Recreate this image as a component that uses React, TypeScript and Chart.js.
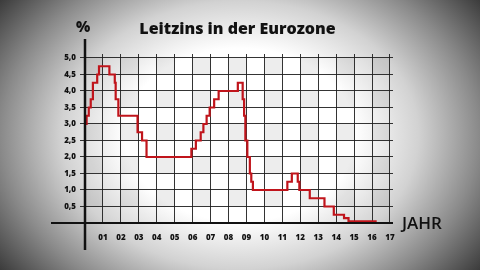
import React, { useEffect, useRef } from "react";
import { Chart, registerables } from "chart.js";

Chart.register(...registerables);

// ECB main refinancing rate: change dates (decimal year) and new value (%)
const changeDates = [
  2000.0, 2000.09, 2000.21, 2000.32, 2000.44, 2000.68, 2000.78, 2001.36, 2001.66,
  2001.71, 2001.86, 2002.93, 2003.18, 2003.43, 2005.93, 2006.18, 2006.45, 2006.6,
  2006.78, 2006.95, 2007.2, 2007.45, 2008.52, 2008.79, 2008.87, 2008.94, 2009.05,
  2009.19, 2009.27, 2009.36, 2011.28, 2011.53, 2011.86, 2011.95, 2012.53, 2013.35,
  2013.87, 2014.44, 2014.69, 2016.2, 2017.0,
];
const rates = [
  3.0, 3.25, 3.5, 3.75, 4.25, 4.5, 4.75, 4.5, 4.25,
  3.75, 3.25, 2.75, 2.5, 2.0, 2.25, 2.5, 2.75, 3.0,
  3.25, 3.5, 3.75, 4.0, 4.25, 3.75, 3.25, 2.5, 2.0,
  1.5, 1.25, 1.0, 1.25, 1.5, 1.25, 1.0, 0.75, 0.5,
  0.25, 0.15, 0.05, 0.0, 0.0,
];

const yearTicks = [2000, 2001, 2002, 2003, 2004, 2005, 2006, 2007, 2008, 2009, 2010, 2011, 2012, 2013, 2014, 2015, 2016, 2017];
const xTickLabels = ["", "01", "02", "03", "04", "05", "06", "07", "08", "09", "10", "11", "12", "13", "14", "15", "16", "17"];
const yTickValues = [0, 0.5, 1.0, 1.5, 2.0, 2.5, 3.0, 3.5, 4.0, 4.5, 5.0];
const yTickLabels = ["", "0,5", "1,0", "1,5", "2,0", "2,5", "3,0", "3,5", "4,0", "4,5", "5,0"];
const shadedRowBases = [4.5, 3.5, 2.5, 1.5, 0.5];
const shadedColStarts = [2000, 2002, 2004, 2006, 2008, 2010, 2012, 2014, 2016];

const titleText = "Leitzins in der Eurozone";
const yUnitText = "%";
const xUnitText = "JAHR";

const FONT = "'Open Sans', 'DejaVu Sans', sans-serif";

const decorPlugin = {
  id: "decor",
  beforeDraw(chart: any) {
    const { ctx, scales } = chart;
    const xs = scales.x;
    const ys = scales.y;
    ctx.save();
    ctx.fillStyle = "rgba(0,0,0,0.07)";
    shadedRowBases.forEach((b) => {
      const yTop = ys.getPixelForValue(b + 0.5);
      const yBot = ys.getPixelForValue(b);
      shadedColStarts.forEach((c) => {
        const xl = xs.getPixelForValue(c);
        const xr = xs.getPixelForValue(c + 1);
        ctx.fillRect(xl, yTop, xr - xl, yBot - yTop);
      });
    });
    ctx.restore();
  },
  afterDraw(chart: any) {
    const { ctx, scales, chartArea } = chart;
    const xs = scales.x;
    const ys = scales.y;
    const x0 = xs.getPixelForValue(2000);
    const y0 = ys.getPixelForValue(0);
    ctx.save();
    ctx.strokeStyle = "#111";
    ctx.lineWidth = 2.5;
    ctx.beginPath();
    ctx.moveTo(x0, 39);
    ctx.lineTo(x0, 250);
    ctx.stroke();
    ctx.lineWidth = 2;
    ctx.beginPath();
    ctx.moveTo(51, y0);
    ctx.lineTo(chartArea.right, y0);
    ctx.stroke();

    ctx.fillStyle = "#111";
    ctx.textBaseline = "middle";
    ctx.textAlign = "center";
    ctx.font = `800 16px ${FONT}`;
    ctx.fillText(titleText, 237.5, 29);
    ctx.font = `800 15px ${FONT}`;
    ctx.fillText(yUnitText, x0 - 2, 28);
    ctx.textAlign = "left";
    ctx.font = `600 17px ${FONT}`;
    ctx.fillText(xUnitText, 402, y0 + 1);
    ctx.restore();
  },
};

export default function App() {
  const ref = useRef<HTMLCanvasElement | null>(null);
  useEffect(() => {
    if (!ref.current) return;
    const data = changeDates.map((d, i) => ({ x: d, y: rates[i] }));
    const chart = new Chart(ref.current, {
      type: "line",
      data: {
        datasets: [
          {
            data,
            stepped: true,
            borderColor: "#c0141b",
            borderWidth: 2.2,
            pointRadius: 0,
            fill: false,
          },
        ],
      },
      options: {
        animation: false,
        responsive: false,
        devicePixelRatio: 1,
        layout: { padding: { top: 54, right: 87, bottom: 0, left: 0 } },
        plugins: { legend: { display: false }, tooltip: { enabled: false }, title: { display: false } },
        scales: {
          x: {
            type: "linear",
            min: 2000,
            max: 2017.17,
            afterBuildTicks: (s: any) => {
              s.ticks = yearTicks.map((v) => ({ value: v }));
            },
            afterFit: (s: any) => {
              s.height = 47;
            },
            grid: { color: "rgba(30,30,30,0.9)", lineWidth: 1, drawTicks: false },
            border: { display: false },
            ticks: {
              autoSkip: false,
              maxRotation: 0,
              padding: 10,
              color: "#111",
              font: { family: FONT, size: 8, weight: "800" },
              callback: (_v: any, i: number) => xTickLabels[i],
            },
          },
          y: {
            type: "linear",
            min: 0,
            max: 5.121,
            afterBuildTicks: (s: any) => {
              s.ticks = yTickValues.map((v) => ({ value: v }));
            },
            afterFit: (s: any) => {
              s.width = 85;
            },
            grid: { color: "rgba(30,30,30,0.9)", lineWidth: 1, drawTicks: true, tickLength: 5 },
            border: { display: false },
            ticks: {
              padding: 4,
              color: "#111",
              font: { family: FONT, size: 8, weight: "800" },
              callback: (_v: any, i: number) => yTickLabels[i],
            },
          },
        },
      },
      plugins: [decorPlugin],
    });
    return () => chart.destroy();
  }, []);

  return (
    <div
      style={{
        position: "absolute",
        left: 0,
        top: 0,
        width: 480,
        height: 270,
        overflow: "hidden",
        background:
          "radial-gradient(ellipse 60% 80% at 50% 50%, #ffffff 0%, #ffffff 40%, #d2d2d2 62%, #8a8a8a 83%, #3c3c3c 104%)",
      }}
    >
      <canvas ref={ref} width={480} height={270} style={{ display: "block", width: 480, height: 270 }} />
    </div>
  );
}
